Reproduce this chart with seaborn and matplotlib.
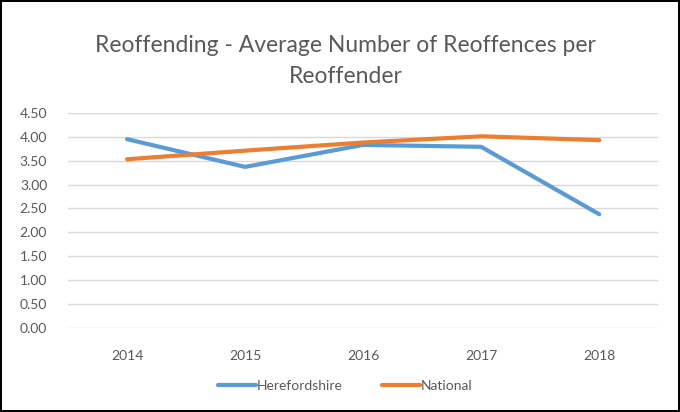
import pandas as pd
import matplotlib.pyplot as plt
import seaborn as sns

# dados
anos = ['2014', '2015', '2016', '2017', '2018']
herefordshire = [3.95, 3.37, 3.83, 3.79, 2.38]
national = [3.53, 3.71, 3.88, 4.01, 3.93]
y_ticks = [0.0, 0.5, 1.0, 1.5, 2.0, 2.5, 3.0, 3.5, 4.0, 4.5]

df = pd.DataFrame({
    'Ano': anos * 2,
    'Valor': herefordshire + national,
    'Serie': ['Herefordshire'] * len(anos) + ['National'] * len(anos),
})

sns.set_style("white")
plt.rcParams['font.family'] = ['Lato', 'DejaVu Sans']

cinza = '#595959'
fig = plt.figure(figsize=(6.8, 4.12), dpi=100, edgecolor='black', linewidth=1.5)
ax = fig.add_axes([0.1, 0.204, 0.868, 0.522])

sns.lineplot(data=df, x='Ano', y='Valor', hue='Serie',
             palette={'Herefordshire': '#5B9BD5', 'National': '#ED7D31'},
             linewidth=3, ax=ax, legend=False)

ax.set_xlim(-0.5, len(anos) - 0.5)
ax.set_ylim(0, 4.5)
ax.set_yticks(y_ticks)
ax.set_yticklabels([f'{v:.2f}' for v in y_ticks])
ax.yaxis.grid(True, color='#D9D9D9', linewidth=1)
ax.set_axisbelow(True)
for s in ax.spines.values():
    s.set_visible(False)
ax.tick_params(axis='both', length=0, colors=cinza, labelsize=10)
ax.tick_params(axis='x', pad=16)
ax.tick_params(axis='y', pad=15)
ax.set_xlabel('')
ax.set_ylabel('')

fig.text(0.508, 0.89, 'Reoffending - Average Number of Reoffences per',
         ha='center', va='center', fontsize=16.5, color=cinza)
fig.text(0.508, 0.815, 'Reoffender', ha='center', va='center',
         fontsize=16.5, color=cinza)

h1, = ax.plot([], [], color='#5B9BD5', linewidth=3, label='Herefordshire')
h2, = ax.plot([], [], color='#ED7D31', linewidth=3, label='National')
fig.legend(handles=[h1, h2], loc='center', bbox_to_anchor=(0.508, 0.063),
           ncol=2, frameon=False, fontsize=10, labelcolor=cinza,
           handlelength=2.7, handletextpad=0.1, columnspacing=2.8)

fig.savefig('out.png', dpi=100)
